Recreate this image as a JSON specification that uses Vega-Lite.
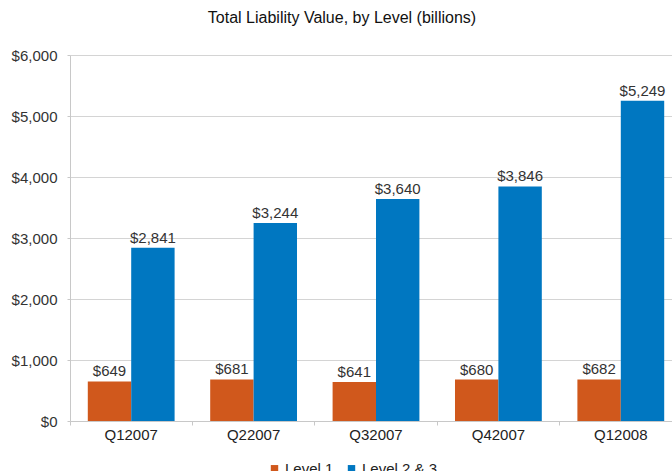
{
  "$schema": "https://vega.github.io/schema/vega-lite/v6.json",
  "width": 602,
  "height": 366,
  "autosize": "none",
  "padding": {"left": 70, "top": 55, "right": 0, "bottom": 50},
  "background": "white",
  "config": {"font": "Liberation Sans", "view": {"stroke": null}},
  "title": {"text": "Total Liability Value, by Level (billions)", "fontSize": 16, "fontWeight": "normal", "color": "#111111", "anchor": "middle", "dx": -29, "offset": 22},
  "data": {
    "values": [
      {"quarter": "Q12007", "level": "Level 1", "value": 649},
      {"quarter": "Q12007", "level": "Level 2 & 3", "value": 2841},
      {"quarter": "Q22007", "level": "Level 1", "value": 681},
      {"quarter": "Q22007", "level": "Level 2 & 3", "value": 3244},
      {"quarter": "Q32007", "level": "Level 1", "value": 641},
      {"quarter": "Q32007", "level": "Level 2 & 3", "value": 3640},
      {"quarter": "Q42007", "level": "Level 1", "value": 680},
      {"quarter": "Q42007", "level": "Level 2 & 3", "value": 3846},
      {"quarter": "Q12008", "level": "Level 1", "value": 682},
      {"quarter": "Q12008", "level": "Level 2 & 3", "value": 5249}
    ]
  },
  "encoding": {
    "x": {
      "field": "quarter", "type": "nominal", "sort": null,
      "scale": {"range": [0, 612], "paddingInner": 0, "paddingOuter": 0},
      "axis": {"title": null, "labelAngle": 0, "bandPosition": 0, "domainColor": "#c8c8c8", "tickColor": "#c8c8c8", "tickSize": 4, "labelPadding": 2, "labelFontSize": 15, "labelColor": "#222222", "grid": false, "labelBaseline": "top"}
    },
    "xOffset": {"field": "level", "type": "nominal", "scale": {"paddingOuter": 0.41, "paddingInner": 0}},
    "y": {
      "field": "value", "type": "quantitative",
      "scale": {"domain": [0, 6000], "nice": false},
      "axis": {"title": null, "format": "$,.0f", "values": [0, 1000, 2000, 3000, 4000, 5000, 6000], "domainColor": "#c8c8c8", "tickColor": "#c8c8c8", "tickSize": 3, "labelPadding": 10, "labelFontSize": 15, "labelColor": "#333333", "gridColor": "#d4d4d4", "grid": true}
    }
  },
  "layer": [
    {
      "mark": {"type": "bar"},
      "encoding": {
        "color": {
          "field": "level", "type": "nominal",
          "scale": {"domain": ["Level 1", "Level 2 & 3"], "range": ["#D0581C", "#0077C1"]},
          "legend": {"orient": "none", "legendX": 197, "legendY": 406, "direction": "horizontal", "title": null, "symbolType": "square", "symbolSize": 55, "symbolStrokeWidth": 0, "labelFontSize": 15, "labelColor": "#222222", "labelOffset": 3, "columnPadding": 10, "padding": 0}
        }
      }
    },
    {
      "mark": {"type": "text", "baseline": "alphabetic", "dy": -5, "fontSize": 15, "color": "#333333"},
      "encoding": {"text": {"field": "value", "type": "quantitative", "format": "$,.0f"}}
    }
  ]
}
